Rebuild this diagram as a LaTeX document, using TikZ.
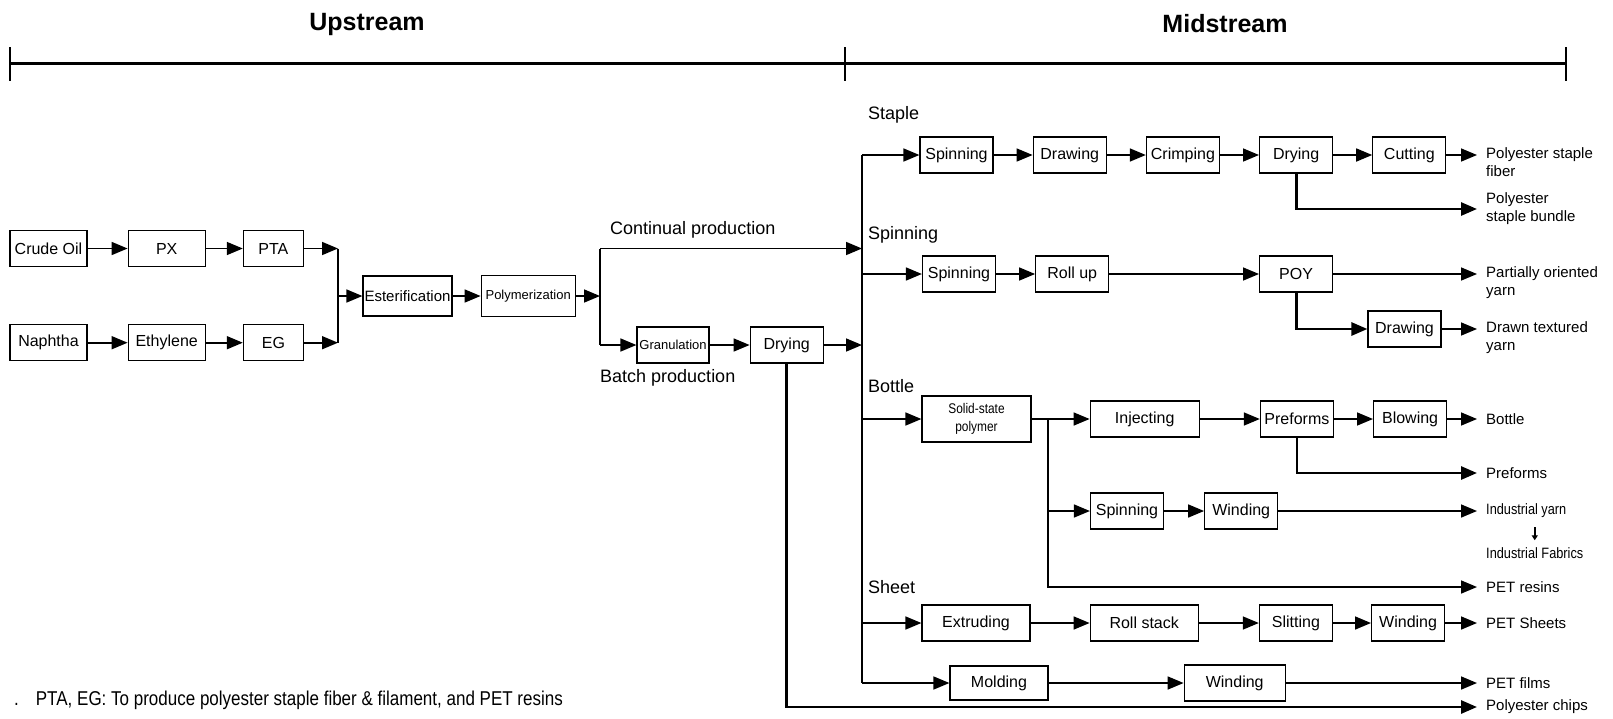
\documentclass[tikz,border=0pt]{standalone}
\usepackage{fontspec}
\setmainfont{Liberation Sans}
\newfontfamily\narrowfont{Liberation Sans}[FakeStretch=0.85]
\usetikzlibrary{arrows.meta, positioning, calc}

\begin{document}
\begin{tikzpicture}[
    x=1pt, y=-1pt,
    every node/.style={font=\fontsize{15}{18}\selectfont},
    box/.style={rectangle, draw, line width=1.2pt, fill=white, minimum width=73pt, minimum height=36pt, inner sep=0pt, align=center, font=\fontsize{16}{18}\selectfont},
    widebox/.style={box, minimum width=108pt},
    arrow/.style={-{Triangle[length=16pt, width=13pt]}, line width=1.6pt},
    thickarrow/.style={arrow, line width=2.8pt},
    joint/.style={line width=2.2pt},
    thickjoint/.style={line width=2.8pt},
    smallarrow/.style={-{Triangle[length=5pt, width=6pt]}, line width=1.6pt},
    branch/.style={anchor=west, inner sep=0pt, font=\fontsize{18}{21}\selectfont},
    product/.style={anchor=west, inner xsep=9pt, inner ysep=1pt, align=left},
    narrow/.style={font=\fontsize{15}{18}\narrowfont},
    title/.style={font=\fontsize{25}{30}\selectfont\bfseries},
    tick/.style={line width=1.6pt}
]
\useasboundingbox (0,0) rectangle (1613,718);

% ============ HEADER ============
\coordinate (hd_left) at (10,63);
\coordinate (hd_mid) at (845,63);
\coordinate (hd_right) at (1566,63);
\draw[line width=3pt] (hd_left) -- (hd_right);
\foreach \t in {hd_left, hd_mid, hd_right}
    \draw[tick] ([yshift=16pt]\t) -- ([yshift=-18pt]\t);
\node[title] (hd_up) at (367,24) {Upstream};
\node[title] (hd_ms) at (1225,24) {Midstream};

% ============ UPSTREAM ============
% Raw materials
\node[box, minimum width=77pt] (up_crude) at (48.5,248.5) {Crude Oil};
\node[box, minimum width=77pt, right=40pt of up_crude] (up_px) {PX};
\node[box, minimum width=60pt, right=37pt of up_px] (up_pta) {PTA};
\node[box, minimum width=77pt, below=57pt of up_crude] (up_naph) {Naphtha};
\node[box, minimum width=77pt, right=40pt of up_naph] (up_eth) {Ethylene};
\node[box, minimum width=60pt, right=37pt of up_eth] (up_eg) {EG};

% Polymer
\node[box, minimum width=89pt, minimum height=40pt, font=\fontsize{15}{18}\selectfont] (up_ester) at (407.5,296) {Esterification};
\node[box, minimum width=94pt, minimum height=41pt, font=\fontsize{13}{16}\selectfont, right=28pt of up_ester] (up_poly) {Polymerization};

% Batch line
\node[box, minimum width=72pt, font=\fontsize{13}{16}\selectfont] (up_gran) at (673,345) {Granulation};
\node[box, right=40pt of up_gran] (up_dry) {Drying};

\node[branch] (up_cont_lb) at (610,230) {Continual production};
\node[branch] (up_batch_lb) at (600,378) {Batch production};

% Arrows
\coordinate (up_join) at (338,296);
\coordinate (up_cont) at (600,248.5);
\coordinate (up_batch) at (600,345);
\draw[arrow] (up_crude) -- (up_px);
\draw[arrow] (up_px) -- (up_pta);
\draw[arrow] (up_naph) -- (up_eth);
\draw[arrow] (up_eth) -- (up_eg);
\draw[joint] (up_pta -| up_join) -- (up_eg -| up_join);
\draw[arrow] (up_pta) -- (up_pta -| up_join);
\draw[arrow] (up_eg) -- (up_eg -| up_join);
\draw[arrow] (up_join) -- (up_ester);
\draw[arrow] (up_ester) -- (up_poly);
\draw[arrow] (up_poly) -- (up_poly -| up_cont);
\draw[thickjoint] (up_cont) -- (up_batch);
\draw[arrow] (up_batch) -- (up_gran);
\draw[arrow] (up_gran) -- (up_dry);

% ============ MIDSTREAM ============
\coordinate (ms_top) at (862,155);
\coordinate (ms_bot) at (862,683);
\draw[joint] (ms_top) -- (ms_bot);

\node[branch] (ms_staple) at (868,115) {Staple};
\node[branch] (ms_spinning) at (868,235) {Spinning};
\node[branch] (ms_bottle) at (868,386) {Bottle};
\node[branch] (ms_sheet) at (868,587) {Sheet};

% Staple
\node[box] (st_spin) at (956.5,155) {Spinning};
\node[box, right=39pt of st_spin] (st_draw) {Drawing};
\node[box, right=39pt of st_draw] (st_crimp) {Crimping};
\node[box, right=39pt of st_crimp] (st_dry) {Drying};
\node[box, right=39pt of st_dry] (st_cut) {Cutting};
\node[product] (lb_fiber) at (1477,162) {Polyester staple\\fiber};
\node[product] (lb_bundle) at (1477,209) {Polyester\\staple bundle};

% Spinning
\node[box] (sp_spin) at (959,274) {Spinning};
\node[box, right=39pt of sp_spin] (sp_roll) {Roll up};
\node[box] (sp_poy) at (st_dry |- sp_spin) {POY};
\node[box] (sp_draw) at (1404.5,329) {Drawing};
\node[product] (lb_poy) at (1477,283) {Partially oriented\\yarn};
\node[product] (lb_dty) at (1477,338) {Drawn textured\\yarn};

% Bottle
\node[box, minimum width=109pt, minimum height=46pt, font=\fontsize{14}{18}\narrowfont] (bt_ssp) at (976.5,419) {Solid-state\\polymer};
\node[box, minimum width=109pt, right=58pt of bt_ssp] (bt_inj) {Injecting};
\node[box, right=60pt of bt_inj] (bt_pre) {Preforms};
\node[box, right=39pt of bt_pre] (bt_blow) {Blowing};
\node[product] (lb_bottle) at (1477,419) {Bottle};
\node[product] (lb_preforms) at (1477,473) {Preforms};

% Industrial yarn
\node[box] (bt_spin) at (1127,511) {Spinning};
\node[box, right=40pt of bt_spin] (bt_wind) {Winding};
\node[product, narrow] (lb_yarn) at (1477,511) {Industrial yarn};
\node[product, narrow] (lb_fabrics) at (1477,553) {Industrial Fabrics};
\node[product] (lb_resins) at (1477,587) {PET resins};

% Sheet
\node[widebox] (sh_ext) at (976,623) {Extruding};
\node[widebox, right=59pt of sh_ext] (sh_roll) {Roll stack};
\node[box, right=60pt of sh_roll] (sh_slit) {Slitting};
\node[box, right=38pt of sh_slit] (sh_wind) {Winding};
\node[product] (lb_sheets) at (1477,623) {PET Sheets};

% Film
\node[box, minimum width=98pt, minimum height=34pt] (sh_mold) at (999,683) {Molding};
\node[box, minimum width=101pt, right=135pt of sh_mold] (sh_wind2) {Winding};
\node[product] (lb_films) at (1477,683) {PET films};
\node[product] (lb_chips) at (1477,707) {Polyester chips};

% Arrows from upstream
\draw[arrow] (up_cont) -- (up_cont -| ms_top);
\draw[arrow] (up_dry) -- (up_dry -| ms_top);
\draw[thickarrow] (up_dry.south) |- (lb_chips.west);

% Staple arrows
\draw[arrow] (ms_top) -- (st_spin);
\draw[arrow] (st_spin) -- (st_draw);
\draw[arrow] (st_draw) -- (st_crimp);
\draw[arrow] (st_crimp) -- (st_dry);
\draw[arrow] (st_dry) -- (st_cut);
\draw[arrow] (st_cut) -- (st_cut -| lb_fiber.west);
\draw[thickarrow] (st_dry.south) |- (lb_bundle.west);

% Spinning arrows
\draw[arrow] (ms_top |- sp_spin) -- (sp_spin);
\draw[arrow] (sp_spin) -- (sp_roll);
\draw[arrow] (sp_roll) -- (sp_poy);
\draw[arrow] (sp_poy) -- (sp_poy -| lb_poy.west);
\draw[thickarrow] (sp_poy.south) |- (sp_draw);
\draw[arrow] (sp_draw) -- (sp_draw -| lb_dty.west);

% Bottle arrows
\coordinate (bt_join) at (1048,419);
\draw[arrow] (ms_top |- bt_ssp) -- (bt_ssp);
\draw[arrow] (bt_ssp) -- (bt_inj);
\draw[arrow] (bt_inj) -- (bt_pre);
\draw[arrow] (bt_pre) -- (bt_blow);
\draw[arrow] (bt_blow) -- (lb_bottle);
\draw[thickarrow] (bt_pre.south) |- (lb_preforms.west);
\draw[arrow] (bt_join) |- (lb_resins.west);
\draw[arrow] (bt_join |- bt_spin) -- (bt_spin);
\draw[arrow] (bt_spin) -- (bt_wind);
\draw[arrow] (bt_wind) -- (lb_yarn);
\draw[smallarrow, shorten <=8pt, shorten >=6pt] (lb_yarn.south -| lb_fabrics) -- (lb_fabrics.north);

% Sheet arrows
\draw[arrow] (ms_top |- sh_ext) -- (sh_ext);
\draw[arrow] (sh_ext) -- (sh_roll);
\draw[arrow] (sh_roll) -- (sh_slit);
\draw[arrow] (sh_slit) -- (sh_wind);
\draw[arrow] (sh_wind) -- (lb_sheets);
\draw[arrow] (ms_bot) -- (sh_mold);
\draw[arrow] (sh_mold) -- (sh_wind2);
\draw[arrow] (sh_wind2) -- (lb_films);

% ============ NOTE ============
\node[anchor=west, inner sep=0pt, font=\fontsize{20}{24}\narrowfont] (ft_note) at (14,700) {.\hspace{17pt}PTA, EG: To produce polyester staple fiber \& filament, and PET resins};

\end{tikzpicture}
\end{document}
